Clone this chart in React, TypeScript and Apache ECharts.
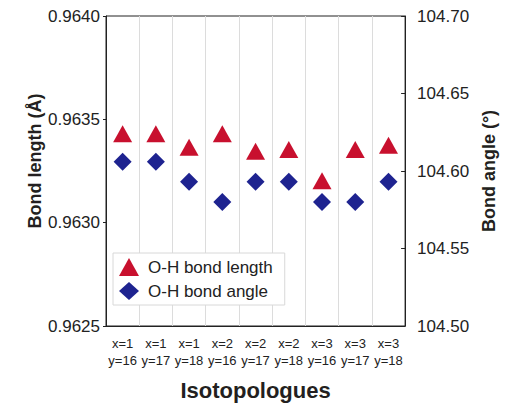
import React, { useEffect, useRef } from "react";
import * as echarts from "echarts";

const categories = [
  "x=1\ny=16", "x=1\ny=17", "x=1\ny=18",
  "x=2\ny=16", "x=2\ny=17", "x=2\ny=18",
  "x=3\ny=16", "x=3\ny=17", "x=3\ny=18",
];
const bondLength = [0.96343, 0.96343, 0.963365, 0.96343, 0.963346, 0.963354, 0.963203, 0.963354, 0.963375];
const bondAngle = [104.606, 104.606, 104.593, 104.58, 104.593, 104.593, 104.58, 104.58, 104.593];
const leftRange = { min: 0.9625, max: 0.964, interval: 0.0005 };
const rightRange = { min: 104.5, max: 104.7, interval: 0.05 };

const FONT = "'Liberation Sans', Arial, sans-serif";

export default function App() {
  const ref = useRef<HTMLDivElement>(null);
  useEffect(() => {
    if (!ref.current) return;
    const chart = echarts.init(ref.current, null, { renderer: "svg" });
    chart.setOption({
      animation: false,
      backgroundColor: "#ffffff",
      textStyle: { fontFamily: FONT },
      grid: {
        left: 106, right: 97, top: 16, bottom: 78,
        show: true, borderColor: "#222", borderWidth: 1, backgroundColor: "transparent",
      },
      legend: {
        left: 113, top: 253, orient: "vertical",
        backgroundColor: "#fff", borderColor: "#d8d8d8", borderWidth: 1,
        padding: [5, 12, 5, 6], itemGap: 6, itemWidth: 20, itemHeight: 18,
        textStyle: { fontSize: 17, color: "#222", fontFamily: FONT, padding: [0, 0, 0, 4] },
        data: [
          { name: "O-H bond length", icon: "triangle" },
          { name: "O-H bond angle", icon: "diamond" },
        ],
      },
      xAxis: {
        type: "category", data: categories, boundaryGap: true,
        name: "Isotopologues", nameLocation: "middle", nameGap: 53,
        nameTextStyle: { fontSize: 22, fontWeight: "bold", color: "#231f20", fontFamily: FONT },
        axisLine: { lineStyle: { color: "#222" } },
        axisTick: { show: false },
        axisLabel: { fontSize: 13, color: "#222", lineHeight: 17, margin: 9, interval: 0, fontFamily: FONT },
        splitLine: { show: true, lineStyle: { color: "#dcdcdc" } },
      },
      yAxis: [
        {
          type: "value", position: "left", ...leftRange,
          name: "Bond length (Å)", nameLocation: "middle", nameGap: 62, nameRotate: 90,
          nameMoveOverlap: false,
          nameTextStyle: { fontSize: 18, fontWeight: "bold", color: "#231f20", fontFamily: FONT, padding: [0, 0, 0, 20] },
          axisLine: { show: true, lineStyle: { color: "#222" } },
          axisTick: { show: true, inside: false, length: 3, lineStyle: { color: "#222" } },
          axisLabel: { fontSize: 17, color: "#222", margin: 6, formatter: (v: number) => v.toFixed(4), fontFamily: FONT },
          splitLine: { show: false },
        },
        {
          type: "value", position: "right", ...rightRange,
          name: "Bond angle (°)", nameLocation: "middle", nameGap: 70, nameRotate: 90,
          nameTextStyle: { fontSize: 18, fontWeight: "bold", color: "#231f20", fontFamily: FONT },
          axisLine: { show: true, lineStyle: { color: "#222" } },
          axisTick: { show: true, inside: true, length: 4, lineStyle: { color: "#222" } },
          axisLabel: { fontSize: 17, color: "#222", margin: 12, formatter: (v: number) => v.toFixed(2), fontFamily: FONT },
          splitLine: { show: false },
        },
      ],
      series: [
        {
          name: "O-H bond length", type: "scatter", yAxisIndex: 0,
          symbol: "triangle", symbolSize: [19, 17],
          itemStyle: { color: "#c8102e", opacity: 1 },
          data: bondLength,
        },
        {
          name: "O-H bond angle", type: "scatter", yAxisIndex: 1,
          symbol: "diamond", symbolSize: [18, 18],
          itemStyle: { color: "#1e2390", opacity: 1 },
          data: bondAngle,
        },
      ],
    });
    return () => chart.dispose();
  }, []);
  return (
    <div
      ref={ref}
      style={{ position: "fixed", left: 0, top: 0, width: 506, height: 406, background: "#fff" }}
    />
  );
}
